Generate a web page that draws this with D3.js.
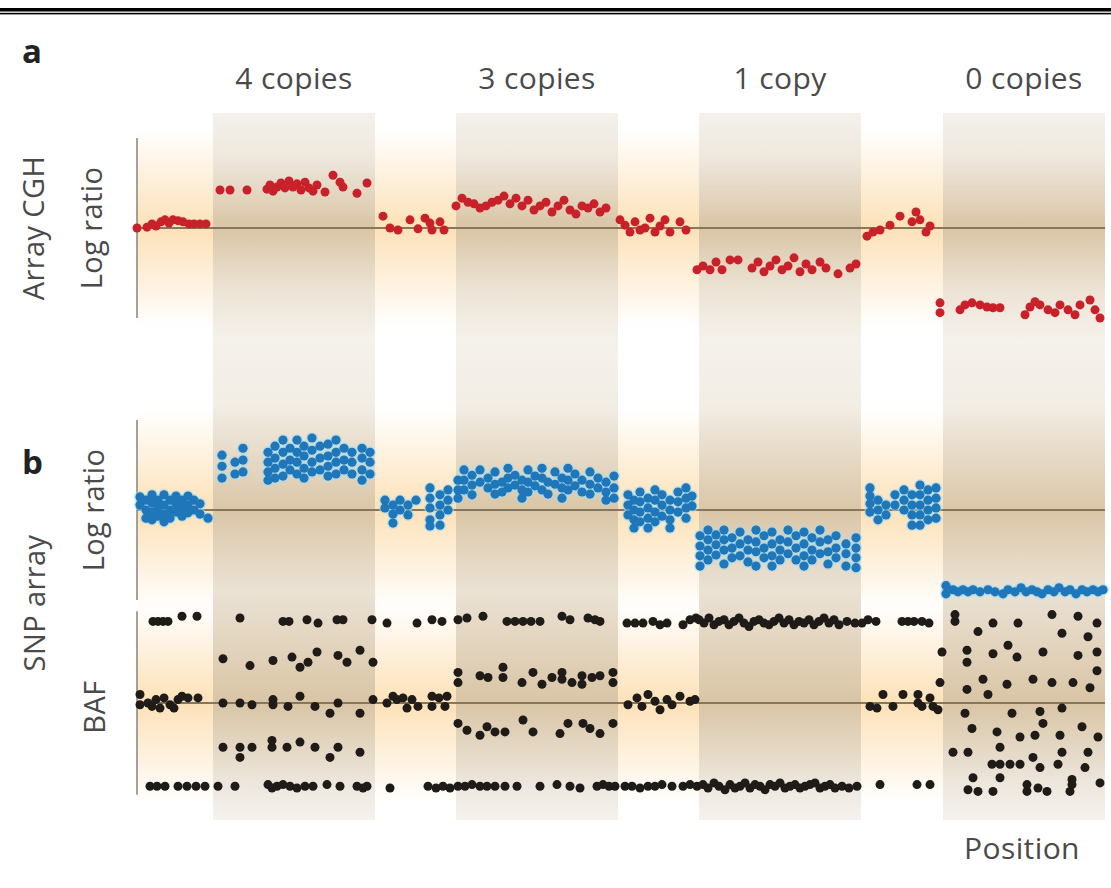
<!DOCTYPE html>
<html>
<head>
<meta charset="utf-8">
<script src="https://cdn.jsdelivr.net/npm/d3@7"></script>
<style>
  body { margin: 0; background: #fff; }
  text { font-family: "Open Sans", sans-serif; }
</style>
</head>
<body>
<svg id="chart" width="1111" height="888"></svg>
<script>
// copy-number segments along the chromosome
const bandLabels = ["4 copies", "3 copies", "1 copy", "0 copies"];
const bandStart = [76, 319, 562, 806];
const bandEnd = [238, 481, 724, 968];

// array CGH probes: [position, log2 ratio]
const cghPoints = [
  [0,0],[10,0.02],[15,0.1],[19,0.05],[24,0.15],[28,0.2],[32,0.12],[36,0.2],[41,0.18],[46,0.15],[52,0.1],[57,0.1],[63,0.1],[69,0.1],
  [83,0.93],[93,0.93],[110,0.93],[130,0.95],[133,1.05],[136,0.9],[140,1.0],[144,1.1],[148,0.98],[152,1.15],[156,1.0],[160,1.08],
  [164,0.93],[168,1.12],[172,0.98],[176,0.9],[180,1.05],[188,0.88],[196,1.29],[203,1.12],[206,1.0],[220,0.85],[230,1.1],
  [246,0.29],[253,0.0],[261,-0.05],[273,0.2],[281,-0.02],[288,0.24],[293,0.12],[295,-0.05],[303,0.15],[307,-0.05],
  [319,0.54],[325,0.73],[331,0.63],[337,0.59],[343,0.49],[349,0.54],[355,0.63],[361,0.68],[367,0.78],[373,0.59],[379,0.73],[385,0.54],
  [391,0.68],[397,0.44],[403,0.54],[409,0.63],[415,0.39],[421,0.54],[427,0.68],[433,0.44],[439,0.34],[445,0.54],[451,0.49],[457,0.59],[463,0.39],[469,0.49],
  [483,0.2],[488,0.07],[493,-0.1],[498,0.15],[503,-0.05],[508,0.0],[513,0.24],[518,-0.1],[523,0.05],[528,0.2],[533,-0.1],[543,0.15],[549,-0.05],
  [560,-1.02],[566,-0.93],[573,-1.02],[579,-0.83],[585,-1.02],[593,-0.78],[601,-0.78],[615,-0.98],[621,-0.83],[627,-1.07],[633,-0.93],[639,-0.78],
  [645,-1.02],[651,-0.93],[657,-0.73],[663,-1.07],[669,-0.88],[675,-1.02],[683,-0.83],[689,-0.98],[701,-1.12],[713,-0.98],[719,-0.88],
  [730,-0.2],[736,-0.1],[743,-0.05],[753,0.07],[763,0.29],[775,0.15],[779,0.39],[783,0.2],[789,-0.1],[793,0.05],
  [803,-1.83],[803,-2.07],[823,-2.0],[828,-1.88],[835,-1.83],[843,-1.88],[850,-1.93],[856,-1.95],[863,-1.95],[888,-2.12],[893,-1.93],
  [898,-1.8],[903,-1.88],[911,-2.0],[918,-2.07],[923,-1.88],[931,-2.0],[938,-2.12],[943,-1.88],[953,-1.76],[958,-2.0],[963,-2.2]
];

// SNP array probes, stacked at each position: [position, [log2 ratios]]
const snpColumns = [
  [3,[0.32,0.12]],[9,[0.24,0,-0.2]],[15,[0.37,0.17,-0.05,-0.24]],[21,[0.24,0.05,-0.15]],[27,[0.37,0.12,-0.1,-0.29]],[33,[0.24,0,-0.2]],
  [39,[0.34,0.15,-0.05]],[45,[0.24,0.05,-0.15]],[51,[0.34,0.12,-0.07]],[57,[0.24,0]],[63,[0.15,-0.1]],[71,[-0.2]],
  [85,[1.34,1.07,0.78]],[98,[1.17,0.88]],[106,[1.51,1.22,0.93]],[131,[1.41,1.17,0.93,0.73]],[138,[1.56,1.27,1.02,0.78]],
  [146,[1.71,1.41,1.12,0.83]],[153,[1.51,1.22,0.98]],[160,[1.71,1.41,1.17,0.88]],[167,[1.56,1.32,1.02,0.78]],[175,[1.76,1.46,1.17,0.93]],
  [183,[1.56,1.27,0.98]],[191,[1.61,1.32,1.07,0.83]],[199,[1.71,1.41,1.17,0.88]],[207,[1.51,1.22,0.98]],[215,[1.41,1.17,0.88]],
  [225,[1.51,1.27,0.98,0.73]],[233,[1.41,1.17,0.88]],
  [248,[0.24,0.05]],[256,[0.12,-0.1,-0.32]],[263,[0.24,0]],[271,[0.12,-0.12]],[279,[0.24]],[293,[0.54,0.29,0.05,-0.24,-0.39]],
  [303,[0.37,0.12,-0.12,-0.37]],[311,[0.49,0.24,0]],
  [321,[0.73,0.49,0.29]],[327,[0.98,0.73,0.49]],[335,[0.85,0.61,0.37]],[343,[0.98,0.68]],[351,[0.78,0.54]],[358,[0.93,0.63,0.39]],
  [365,[0.68,0.44]],[371,[1.02,0.78,0.54]],[378,[0.85,0.61]],[385,[0.73,0.49,0.29]],[391,[0.98,0.68,0.44]],[398,[0.83,0.59]],
  [405,[1.02,0.78,0.49]],[411,[0.68,0.39]],[418,[0.93,0.63]],[425,[0.78,0.54,0.29]],[431,[1.02,0.73,0.49]],[438,[0.88,0.59]],
  [445,[0.73,0.44]],[453,[0.93,0.63,0.39]],[461,[0.78,0.54]],[469,[0.68,0.44,0.24]],[477,[0.83,0.54,0.29]],
  [491,[0.37,0.12,-0.12]],[497,[0.24,0,-0.24,-0.44]],[503,[0.44,0.2,-0.05,-0.29]],[511,[0.29,0.05,-0.2,-0.44]],[518,[0.49,0.24,-0.05,-0.29]],
  [525,[0.37,0.12,-0.15]],[533,[0.24,0,-0.24,-0.44]],[541,[0.44,0.2,-0.05]],[549,[0.54,0.29,0.05,-0.2]],[555,[0.34,0.1]],
  [563,[-0.63,-0.88,-1.12,-1.37]],[571,[-0.49,-0.73,-0.98,-1.22]],[579,[-0.61,-0.85,-1.1]],[587,[-0.49,-0.73,-0.98,-1.32]],
  [595,[-0.68,-0.93,-1.17]],[603,[-0.54,-0.83,-1.12]],[611,[-0.73,-0.98,-1.27]],[619,[-0.49,-0.78,-1.02,-1.37]],[627,[-0.63,-0.93,-1.17]],
  [635,[-0.54,-0.83,-1.12,-1.37]],[643,[-0.73,-0.98,-1.22]],[651,[-0.49,-0.78,-1.07]],[659,[-0.63,-0.93,-1.22]],[667,[-0.54,-0.83,-1.12,-1.37]],
  [675,[-0.68,-0.98,-1.22]],[683,[-0.49,-0.78,-1.07]],[691,[-0.73,-1.02,-1.32]],[699,[-0.63,-0.93,-1.17]],[709,[-0.83,-1.07,-1.37]],
  [719,[-0.68,-0.93,-1.17,-1.41]],
  [733,[0.54,0.34,0.15,-0.05]],[741,[0.24,0,-0.24]],[749,[0.12,-0.12]],[758,[0.37,0.12]],[767,[0.49,0.24,0]],[775,[0.37,0.12,-0.12,-0.37]],
  [783,[0.61,0.37,0.12,-0.12,-0.37]],[791,[0.49,0.24,0,-0.24]],[799,[0.54,0.29,0.05,-0.2]],
  [809,[-1.85,-2.05]],[816,[-1.95]],[821,[-2.0]],[826,[-1.95]],[831,[-2.0]],[836,[-1.95]],[843,[-2.0]],[851,[-1.95]],[858,[-2.0]],
  [866,[-2.05]],[871,[-1.95]],[878,[-2.0]],[884,[-1.9]],[889,[-2.0]],[895,[-1.95]],[900,[-2.0]],[905,[-2.05]],[911,[-1.95]],[917,[-2.0]],
  [922,[-1.9]],[928,[-2.0]],[933,[-1.95]],[939,[-2.05]],[945,[-1.95]],[950,[-2.0]],[956,[-1.95]],[961,[-2.0]],[966,[-1.95]]
];

// SNP array B-allele frequency: [position, BAF]
const bafPoints = [
  [16,0.98],[21,0.98],[26,0.98],[31,0.98],[45,1.01],[60,1.01],
  [3,0.55],[3,0.49],[11,0.5],[15,0.48],[19,0.52],[23,0.47],[27,0.53],[33,0.49],[37,0.47],[41,0.52],[45,0.54],[51,0.53],[61,0.53],
  [13,0.01],[20,0.01],[28,0.01],[41,0.01],[50,0.01],[59,0.01],[68,0.01],
  [103,1.0],[146,0.98],[152,0.98],[170,0.99],[181,0.97],[200,0.99],[206,0.99],[235,0.99],
  [86,0.76],[113,0.72],[136,0.75],[155,0.77],[163,0.71],[171,0.74],[180,0.8],[201,0.78],[210,0.74],[223,0.81],[236,0.74],
  [86,0.5],[103,0.5],[115,0.49],[136,0.52],[136,0.49],[151,0.48],[163,0.54],[178,0.48],[193,0.44],[201,0.5],[223,0.44],[236,0.52],
  [86,0.24],[103,0.24],[103,0.18],[115,0.24],[135,0.28],[135,0.24],[150,0.24],[163,0.27],[178,0.24],[193,0.18],[201,0.24],[223,0.21],
  [81,0.01],[98,0.01],[131,0.02],[135,0.0],[140,0.01],[146,0.02],[153,0.01],[160,0.0],[168,0.01],[176,0.01],[190,0.02],[203,0.01],[220,0.01],[226,0.0],[230,0.01],
  [250,0.97],[280,0.97],[295,0.99],[305,0.98],
  [250,0.5],[256,0.54],[260,0.52],[266,0.53],[270,0.47],[275,0.52],[281,0.48],[295,0.54],[295,0.48],[302,0.53],[308,0.48],[310,0.54],
  [253,0.0],[291,0.01],[299,0.0],[306,0.01],[313,0.0],
  [321,0.99],[330,1.0],[346,1.01],[370,0.98],[378,0.98],[386,0.98],[394,0.98],[403,0.98],[425,1.01],[433,0.99],[451,1.0],[458,0.99],[463,0.98],
  [321,0.68],[321,0.62],[343,0.66],[351,0.65],[366,0.71],[366,0.65],[385,0.62],[396,0.68],[405,0.61],[415,0.65],[425,0.68],[425,0.64],
  [435,0.62],[445,0.66],[445,0.61],[455,0.65],[463,0.66],[476,0.68],[476,0.62],
  [321,0.38],[330,0.34],[343,0.31],[350,0.36],[358,0.33],[368,0.33],[386,0.4],[396,0.33],[423,0.32],[431,0.38],[446,0.38],[453,0.35],[463,0.32],[476,0.38],
  [321,0.01],[328,0.01],[335,0.02],[343,0.01],[350,0.01],[358,0.01],[368,0.01],[380,0.01],[403,0.01],[420,0.02],[433,0.01],[443,0.0],
  [460,0.01],[466,0.02],[472,0.01],[478,0.01],
  [490,0.97],[498,0.97],[506,0.97],[516,0.98],[523,0.96],[530,0.97],[546,0.96],[553,0.99],[559,1.0],
  [491,0.49],[500,0.53],[505,0.48],[511,0.55],[518,0.51],[523,0.46],[530,0.52],[535,0.49],[543,0.54],[553,0.51],[558,0.52],
  [488,0.01],[495,0.01],[503,0.0],[511,0.01],[518,0.01],[525,0.02],[535,0.01],[546,0.01],[553,0.02],
  [562,0.99],[567,0.97],[572,1.0],[577,0.96],[582,0.98],[587,0.99],[592,0.96],[597,0.98],[602,1.0],[607,0.97],[612,0.95],[617,0.98],
  [622,0.99],[627,0.97],[632,0.96],[637,0.98],[642,1.0],[647,0.97],[652,0.99],[657,0.96],[662,0.98],[667,0.97],[672,0.99],[677,0.96],
  [682,0.98],[687,1.0],[692,0.97],[697,0.99],[702,0.96],[710,0.98],[718,0.97],
  [560,0.01],[566,0.02],[571,0.0],[577,0.03],[582,0.01],[588,-0.01],[593,0.02],[598,0.0],[603,0.01],[608,0.03],[613,0.0],[618,0.02],
  [623,0.01],[628,-0.01],[633,0.02],[638,0.01],[643,0.03],[648,0.0],[653,0.01],[658,0.02],[663,0.0],[668,0.01],[673,0.02],[678,0.03],
  [683,0.0],[688,0.01],[693,0.02],[698,0.0],[705,0.01],[712,0.0],[720,0.01],
  [725,0.97],[731,0.99],[739,0.98],[765,0.98],[771,0.98],[777,0.98],[785,0.98],[792,0.97],
  [733,0.48],[740,0.47],[746,0.55],[756,0.48],[766,0.55],[781,0.55],[781,0.5],[785,0.48],[793,0.53],[796,0.48],[801,0.46],
  [743,0.02],[780,0.02],[793,0.02],
  [818,1.02],[818,0.98],[841,0.92],[856,0.97],[881,0.97],[915,1.02],[925,0.91],[941,1.01],[951,0.89],[960,0.97],
  [805,0.8],[830,0.81],[830,0.74],[856,0.79],[871,0.84],[880,0.77],[906,0.8],[941,0.78],[960,0.8],[960,0.69],
  [803,0.62],[830,0.58],[846,0.64],[851,0.55],[870,0.61],[896,0.64],[915,0.62],[936,0.62],[953,0.59],
  [828,0.44],[875,0.44],[903,0.45],[925,0.47],[906,0.38],[835,0.35],[860,0.33],[945,0.36],[883,0.3],[898,0.31],[923,0.31],[961,0.3],
  [816,0.21],[831,0.21],[863,0.24],[896,0.18],[925,0.21],[951,0.21],
  [855,0.14],[863,0.14],[873,0.14],[883,0.14],[903,0.12],[921,0.14],[948,0.12],
  [836,0.06],[863,0.06],[935,0.05],[963,0.03],
  [831,-0.01],[841,-0.02],[856,-0.02],[890,0.02],[890,-0.02],[901,0.0],[910,-0.02],[933,-0.02],[935,0.02]
];

const svg = d3.select("#chart");
const defs = svg.append("defs");

const x = d3.scaleLinear().domain([0, 968]).range([137, 1105]);
const yCgh = d3.scaleLinear().domain([-2.2, 2.2]).range([318, 138]);
const ySnp = d3.scaleLinear().domain([-2.2, 2.2]).range([600, 420]);
const yBaf = d3.scaleLinear().domain([0, 1]).range([788, 618]);

const tracks = [
  { y: yCgh, lo: -2.2, hi: 2.2, mid: 0 },
  { y: ySnp, lo: -2.2, hi: 2.2, mid: 0 },
  { y: yBaf, lo: -0.04, hi: 1.04, mid: 0.5 }
];

// double rule at the top of the page
svg.append("rect").attr("x", 0).attr("y", 8).attr("width", 1111).attr("height", 3.5).attr("fill", "#000");
svg.append("rect").attr("x", 0).attr("y", 12.8).attr("width", 1111).attr("height", 1.6).attr("fill", "#000");

// orange glow around each baseline
const glow = defs.append("linearGradient").attr("id", "glow")
  .attr("x1", 0).attr("y1", 0).attr("x2", 0).attr("y2", 1);
glow.append("stop").attr("offset", 0).attr("stop-color", "#fcdcab").attr("stop-opacity", 0);
glow.append("stop").attr("offset", 0.5).attr("stop-color", "#fcdcab").attr("stop-opacity", 0.85);
glow.append("stop").attr("offset", 1).attr("stop-color", "#fcdcab").attr("stop-opacity", 0);

svg.append("g").selectAll("rect").data(tracks).join("rect")
  .attr("x", x(0)).attr("width", x(968) - x(0))
  .attr("y", d => d.y(d.mid) - 100)
  .attr("height", 200)
  .attr("fill", "url(#glow)");

// shaded copy-number bands
const bandTop = 113, bandBottom = 820;
const bandGrad = defs.append("linearGradient").attr("id", "band")
  .attr("gradientUnits", "userSpaceOnUse")
  .attr("x1", 0).attr("y1", bandTop).attr("x2", 0).attr("y2", bandBottom);
const bandStops = [
  [bandTop, "#f4f1ec"], [160, "#eee7dc"], [yCgh(0), "#d9c5a5"], [290, "#ece3d5"], [340, "#f5f1eb"],
  [405, "#f2ede5"], [ySnp(0), "#dac6a7"], [590, "#ebe2d5"], [yBaf(0.5), "#d9c5a5"], [780, "#ece5da"], [bandBottom, "#f5f2ee"]
];
bandStops.forEach(s => bandGrad.append("stop")
  .attr("offset", (s[0] - bandTop) / (bandBottom - bandTop))
  .attr("stop-color", s[1]));

svg.append("g").selectAll("rect").data(bandStart).join("rect")
  .attr("x", (d, i) => x(d))
  .attr("width", (d, i) => x(bandEnd[i]) - x(d))
  .attr("y", bandTop)
  .attr("height", bandBottom - bandTop)
  .attr("fill", "url(#band)");

// band titles
svg.append("g").selectAll("text").data(bandLabels).join("text")
  .attr("x", (d, i) => x((bandStart[i] + bandEnd[i]) / 2))
  .attr("y", 89)
  .attr("text-anchor", "middle")
  .attr("font-size", 30)
  .attr("letter-spacing", 0.4)
  .attr("fill", "#4a4a4a")
  .text(d => d);

// axes and baselines
svg.append("g").selectAll("line").data(tracks).join("line")
  .attr("x1", x(0)).attr("x2", x(0))
  .attr("y1", d => d.y(d.hi)).attr("y2", d => d.y(d.lo))
  .attr("stroke", "#8f8a84").attr("stroke-width", 1.6);

svg.append("g").selectAll("line").data(tracks).join("line")
  .attr("x1", x(0)).attr("x2", x(968))
  .attr("y1", d => d.y(d.mid)).attr("y2", d => d.y(d.mid))
  .attr("stroke", "#86775f").attr("stroke-width", 2);

// array CGH dots
svg.append("g").selectAll("circle").data(cghPoints).join("circle")
  .attr("cx", d => x(d[0])).attr("cy", d => yCgh(d[1]))
  .attr("r", 4.5)
  .attr("fill", "#c9212a");

// SNP log ratio dots
const snpPoints = snpColumns.flatMap(c => c[1].map(v => [c[0], v]));
svg.append("g").selectAll("circle").data(snpPoints).join("circle")
  .attr("cx", d => x(d[0])).attr("cy", d => ySnp(d[1]))
  .attr("r", 6)
  .attr("fill", "#9fdcf4").attr("opacity", 0.6);
svg.append("g").selectAll("circle").data(snpPoints).join("circle")
  .attr("cx", d => x(d[0])).attr("cy", d => ySnp(d[1]))
  .attr("r", 4.6)
  .attr("fill", "#1f77b9");

// BAF dots
svg.append("g").selectAll("circle").data(bafPoints).join("circle")
  .attr("cx", d => x(d[0])).attr("cy", d => yBaf(d[1]))
  .attr("r", 4.5)
  .attr("fill", "#1f1b18");

// panel letters and side labels
svg.append("text").attr("x", 22).attr("y", 63)
  .attr("font-size", 33).attr("font-weight", "bold").attr("fill", "#222").text("a");
svg.append("text").attr("x", 22).attr("y", 474)
  .attr("font-size", 33).attr("font-weight", "bold").attr("fill", "#222").text("b");

const sideLabels = [
  { text: "Array CGH", x: 44, y: yCgh(0) },
  { text: "Log ratio", x: 102, y: yCgh(0) },
  { text: "SNP array", x: 45, y: 603 },
  { text: "Log ratio", x: 104, y: ySnp(0) },
  { text: "BAF", x: 105, y: 707 }
];
svg.append("g").selectAll("text").data(sideLabels).join("text")
  .attr("transform", d => `translate(${d.x},${d.y}) rotate(-90)`)
  .attr("text-anchor", "middle")
  .attr("font-size", 29)
  .attr("letter-spacing", 0.4)
  .attr("fill", "#4a4a4a")
  .text(d => d.text);

svg.append("text").attr("x", 1022).attr("y", 859)
  .attr("text-anchor", "middle").attr("font-size", 30).attr("letter-spacing", 0.4).attr("fill", "#4a4a4a")
  .text("Position");
</script>
</body>
</html>
